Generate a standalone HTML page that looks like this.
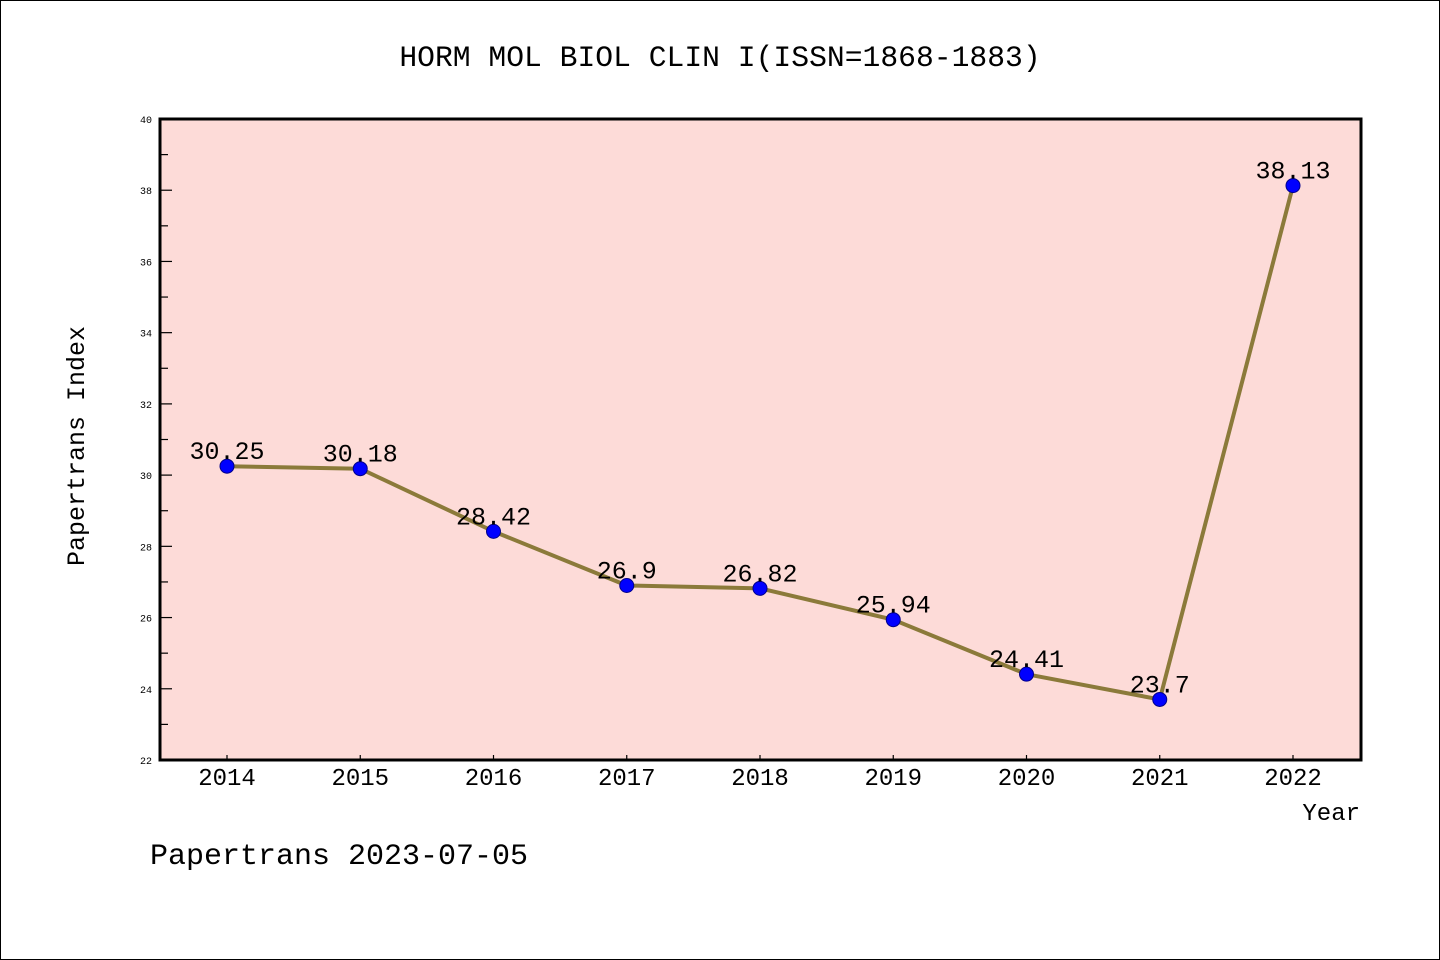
<!DOCTYPE html>
<html><head><meta charset="utf-8"><style>
html,body{margin:0;padding:0;background:#fff}
svg{display:block}
text{font-family:"Liberation Mono","DejaVu Sans Mono",monospace;fill:#000}
</style></head><body>
<svg id="chart" width="1440" height="960" xmlns="http://www.w3.org/2000/svg">
<rect x="0.5" y="0.5" width="1439" height="959" fill="#fff" stroke="#000" stroke-width="1"/>
<text x="720" y="66" font-size="29.7" text-anchor="middle">HORM MOL BIOL CLIN I(ISSN=1868-1883)</text>
<rect x="160" y="119" width="1201" height="641" fill="#fddbd8"/>
<g id="axes"></g>
<g id="series"></g>
<rect x="160" y="119" width="1201" height="641" fill="none" stroke="#000" stroke-width="3"/>
<text transform="translate(84,446) rotate(-90)" font-size="25" text-anchor="middle">Papertrans Index</text>
<text x="1360" y="820" font-size="24" text-anchor="end">Year</text>
<text x="150" y="864" font-size="30">Papertrans 2023-07-05</text>
</svg>
<script>
const years = ["2014","2015","2016","2017","2018","2019","2020","2021","2022"];
const values = [30.25,30.18,28.42,26.9,26.82,25.94,24.41,23.7,38.13];
const valueLabels = ["30.25","30.18","28.42","26.9","26.82","25.94","24.41","23.7","38.13"];
const yTicks = [22,24,26,28,30,32,34,36,38,40];
const yMin = 22, yMax = 40;
const NS = "http://www.w3.org/2000/svg";
function xPos(i){ return 227 + i*(1293-227)/(years.length-1); }
function yPos(v){ return 760 - (v-yMin)/(yMax-yMin)*641; }
function mk(tag, attrs, parent){ const e=document.createElementNS(NS,tag); for(const k in attrs) e.setAttribute(k,attrs[k]); parent.appendChild(e); return e; }
const axes=document.getElementById('axes'), ser=document.getElementById('series');
yTicks.forEach(t=>{
  const y=yPos(t);
  const ln=mk('line',{x1:160,x2:172,y1:y,y2:y,stroke:'#000','stroke-width':1.2},axes);
  
  
  const tx=mk('text',{x:152,y:y+4,'font-size':10,'text-anchor':'end'},axes);
  tx.textContent=t;
  
  
  if(t<yMax){
    const ym=yPos(t+1);
    const mn=mk('line',{x1:160,x2:168,y1:ym,y2:ym,stroke:'#000','stroke-width':1.2},axes);
    
    
  }
});
years.forEach((yr,i)=>{
  const x=xPos(i);
  const ln=mk('line',{x1:x,x2:x,y1:755,y2:760,stroke:'#000','stroke-width':1.2},axes);
  
  
  const tx=mk('text',{x:x,y:785,'font-size':24,'text-anchor':'middle'},axes);
  tx.textContent=yr;
  
  
});
const pts=values.map((v,i)=>xPos(i)+','+yPos(v)).join(' ');
const pl=mk('polyline',{points:pts,fill:'none',stroke:'#8b7a3a','stroke-width':4,'stroke-linejoin':'round'},ser);


values.forEach((v,i)=>{
  const c=mk('circle',{cx:xPos(i),cy:yPos(v),r:7,fill:'#0000ff',stroke:'#00008b','stroke-width':1},ser);
  
  
  const t=mk('text',{x:xPos(i),y:yPos(v)-7,'font-size':25,'text-anchor':'middle'},ser);
  t.textContent=valueLabels[i];
  
  
});
</script>
</body></html>
